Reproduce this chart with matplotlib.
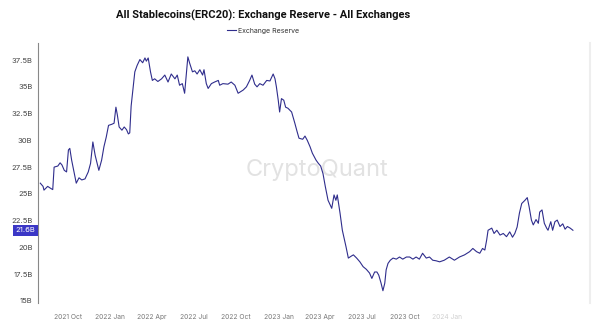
import matplotlib
matplotlib.use("Agg")
import matplotlib.pyplot as plt
import matplotlib.dates as mdates
import numpy as np
import pandas as pd

# -----------------------------
# data
# -----------------------------
dates = [
    "2021-08-02", "2021-08-08", "2021-08-10", "2021-08-18", "2021-08-25", "2021-08-29",
    "2021-09-01", "2021-09-09", "2021-09-14", "2021-09-18", "2021-09-23", "2021-09-28",
    "2021-10-02", "2021-10-05", "2021-10-09", "2021-10-14", "2021-10-19", "2021-10-25",
    "2021-10-31", "2021-11-07", "2021-11-14", "2021-11-19", "2021-11-24", "2021-11-29",
    "2021-12-04", "2021-12-07", "2021-12-13", "2021-12-18", "2021-12-23", "2021-12-28",
    "2022-01-04", "2022-01-09", "2022-01-13", "2022-01-16", "2022-01-20", "2022-01-26",
    "2022-01-31", "2022-02-05", "2022-02-09", "2022-02-12", "2022-02-15", "2022-02-23",
    "2022-02-28", "2022-03-06", "2022-03-12", "2022-03-17", "2022-03-20", "2022-03-24",
    "2022-03-29", "2022-04-02", "2022-04-07", "2022-04-14", "2022-04-22", "2022-04-29",
    "2022-05-06", "2022-05-13", "2022-05-21", "2022-05-26", "2022-05-31", "2022-06-06",
    "2022-06-11", "2022-06-15", "2022-06-18", "2022-06-22", "2022-06-28", "2022-07-03",
    "2022-07-08", "2022-07-14", "2022-07-20", "2022-07-23", "2022-07-28", "2022-08-01",
    "2022-08-08", "2022-08-15", "2022-08-23", "2022-08-26", "2022-09-02", "2022-09-13",
    "2022-09-20", "2022-09-28", "2022-10-05", "2022-10-16", "2022-10-23", "2022-10-30",
    "2022-11-04", "2022-11-10", "2022-11-15", "2022-11-21", "2022-11-28", "2022-12-06",
    "2022-12-13", "2022-12-20", "2022-12-24", "2022-12-27", "2022-12-31", "2023-01-03",
    "2023-01-07", "2023-01-12", "2023-01-16", "2023-01-21", "2023-01-29", "2023-02-05",
    "2023-02-10", "2023-02-14", "2023-02-22", "2023-02-27", "2023-03-04", "2023-03-10",
    "2023-03-15", "2023-03-23", "2023-03-28", "2023-04-02", "2023-04-07", "2023-04-12",
    "2023-04-18", "2023-04-26", "2023-05-01", "2023-05-05", "2023-05-08", "2023-05-14",
    "2023-05-19", "2023-05-27", "2023-06-01", "2023-06-08", "2023-06-12", "2023-06-19",
    "2023-06-26", "2023-07-03", "2023-07-10", "2023-07-17", "2023-07-22", "2023-07-28",
    "2023-08-02", "2023-08-06", "2023-08-11", "2023-08-15", "2023-08-19", "2023-08-22",
    "2023-08-26", "2023-08-31", "2023-09-06", "2023-09-13", "2023-09-20", "2023-09-27",
    "2023-10-05", "2023-10-12", "2023-10-19", "2023-10-26", "2023-11-02", "2023-11-09",
    "2023-11-17", "2023-11-24", "2023-12-01", "2023-12-08", "2023-12-16", "2023-12-26",
    "2024-01-06", "2024-01-17", "2024-01-28", "2024-02-08", "2024-02-19", "2024-02-26",
    "2024-03-05", "2024-03-12", "2024-03-18", "2024-03-23", "2024-03-27", "2024-03-30",
    "2024-04-07", "2024-04-12", "2024-04-18", "2024-04-25", "2024-05-02", "2024-05-09",
    "2024-05-16", "2024-05-22", "2024-05-27", "2024-06-01", "2024-06-06", "2024-06-11",
    "2024-06-18", "2024-06-23", "2024-06-27", "2024-07-02", "2024-07-06", "2024-07-12",
    "2024-07-17", "2024-07-20", "2024-07-25", "2024-07-30", "2024-08-04", "2024-08-07",
    "2024-08-13", "2024-08-17", "2024-08-22", "2024-08-27", "2024-09-02", "2024-09-08",
    "2024-09-13", "2024-09-18", "2024-09-24", "2024-09-30",
]
reserve = [
    26.0, 25.7, 25.35, 25.7, 25.5, 25.4,
    27.5, 27.6, 27.9, 27.7, 27.2, 27.05,
    29.1, 29.25, 28.15, 27.05, 26.0, 26.5,
    26.3, 26.4, 27.05, 27.85, 29.85, 28.6,
    27.7, 27.2, 28.15, 29.4, 30.3, 31.4,
    31.5, 31.6, 33.1, 32.4, 31.25, 30.95,
    31.25, 31.0, 30.6, 30.7, 33.2, 36.4,
    37.0, 37.55, 37.25, 37.7, 37.4, 37.7,
    36.4, 35.6, 35.75, 35.5, 35.75, 36.1,
    35.45, 36.2, 35.75, 36.1, 35.15, 35.3,
    34.4, 36.4, 37.8, 37.2, 36.4, 36.5,
    36.2, 36.6, 36.1, 36.6, 35.3, 34.85,
    35.3, 35.45, 35.6, 35.15, 35.3, 35.25,
    35.45, 35.15, 34.4, 34.7, 35.0, 35.6,
    36.1, 35.25, 35.0, 35.3, 35.15, 35.6,
    35.55, 36.2, 35.75, 35.0, 33.75, 32.65,
    33.9, 33.75, 33.1, 33.0, 32.65, 31.6,
    30.8, 30.2, 30.1, 30.4, 30.0, 29.4,
    28.8, 28.15, 27.85, 27.6, 26.9, 25.7,
    24.4, 23.65, 24.9, 24.4, 24.9, 23.2,
    21.6, 20.05, 19.0, 19.2, 19.3, 19.0,
    18.65, 18.2, 17.95, 17.6, 17.1, 17.7,
    17.7, 17.4, 16.65, 15.95, 16.65, 17.9,
    18.5, 18.8, 19.0, 18.9, 19.1, 18.9,
    19.1, 19.1, 18.9, 19.1, 18.9, 19.45,
    19.0, 19.1, 18.8, 18.75, 18.65, 18.8,
    19.1, 18.8, 19.1, 19.3, 19.6, 19.9,
    19.6, 19.45, 19.9, 19.75, 20.7, 21.6,
    21.8, 21.3, 21.6, 21.15, 21.3, 21.0,
    21.45, 20.95, 21.3, 21.9, 23.2, 24.1,
    24.4, 24.65, 23.8, 22.55, 22.1, 22.6,
    22.25, 23.3, 23.5, 22.25, 21.8, 21.6,
    22.4, 21.6, 22.4, 22.55, 21.95, 22.2,
    21.7, 21.95, 21.8, 21.6,
]
y_ticks = [15, 17.5, 20, 22.5, 25, 27.5, 30, 32.5, 35, 37.5]
x_ticks = ["2021-10-01", "2022-01-01", "2022-04-01", "2022-07-01", "2022-10-01",
           "2023-01-01", "2023-04-01", "2023-07-01", "2023-10-01", "2024-01-01"]
x_labels = ["2021 Oct", "2022 Jan", "2022 Apr", "2022 Jul", "2022 Oct",
            "2023 Jan", "2023 Apr", "2023 Jul", "2023 Oct", "2024 Jan"]
last_label = "21.6B"

# -----------------------------
# style
# -----------------------------
plt.rcParams["font.family"] = ["Inter", "DejaVu Sans"]
line_color = "#2f2d8c"
tag_color = "#3b37c6"

x = pd.to_datetime(dates)

fig = plt.figure(figsize=(6, 3.33), dpi=100)
ax = fig.add_axes([0.0633, 0.09, 0.92, 0.781])

ax.plot(x, reserve, color=line_color, linewidth=0.8)

ax.set_xlim(pd.Timestamp("2021-07-28"), pd.Timestamp("2024-11-06"))
ax.set_ylim(14.8, 39.1)

ax.set_yticks(y_ticks)
ax.set_yticklabels([f"{v:g}B" for v in y_ticks], fontsize=5.5, color="#444444")
ax.set_xticks(pd.to_datetime(x_ticks))
ax.set_xticklabels(x_labels, fontsize=4.8, color="#777777")
ax.get_xticklabels()[-1].set_alpha(0.35)
ax.tick_params(axis="both", length=0, pad=4)
ax.tick_params(axis="x", pad=8)

for side in ["top", "bottom"]:
    ax.spines[side].set_visible(False)
ax.spines["left"].set_color("#888888")
ax.spines["left"].set_linewidth(0.8)
ax.spines["right"].set_color("#eeeeee")
ax.spines["right"].set_linewidth(1.5)

# last value tag on the y axis
ax.annotate(last_label, xy=(0, reserve[-1]), xycoords=("axes fraction", "data"),
            xytext=(-2, 0), textcoords="offset points", ha="right", va="center",
            fontsize=5.5, color="white",
            bbox=dict(boxstyle="square,pad=0.35", fc=tag_color, ec="none"))

# watermark
ax.text(0.505, 0.51, "CryptoQuant", transform=ax.transAxes, ha="center", va="center",
        fontsize=17, color="#e2e2e2", zorder=0)

# title and legend (centred a bit left of the figure middle, as in the source)
fig.text(0.439, 0.955, "All Stablecoins(ERC20): Exchange Reserve - All Exchanges",
         ha="center", va="center", fontsize=8, fontweight="bold", color="#111111",
         family=["Roboto", "DejaVu Sans"])
fig.legend(["Exchange Reserve"], loc="center", bbox_to_anchor=(0.439, 0.908),
           frameon=False, fontsize=5, handlelength=1.2, handletextpad=0.4,
           labelcolor="#333333")

fig.savefig("out.png", dpi=100)
